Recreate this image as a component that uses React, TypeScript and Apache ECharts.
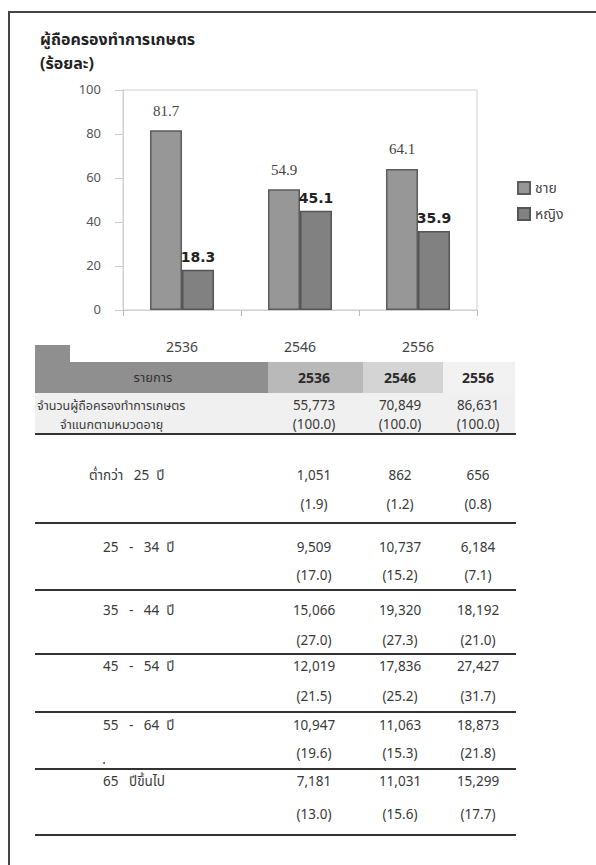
import React, { useEffect, useRef } from "react";
import * as echarts from "echarts";

const years = ["2536", "2546", "2556"];
const maleShare = [81.7, 54.9, 64.1];
const femaleShare = [18.3, 45.1, 35.9];
const seriesNames = ["ชาย", "หญิง"];

const totalHolders = [55773, 70849, 86631];
const totalPct = [100.0, 100.0, 100.0];
const ageGroups = [
  "ต่ำกว่า   25  ปี",
  "25   -   34  ปี",
  "35   -   44  ปี",
  "45   -   54  ปี",
  "55   -   64  ปี",
  "65   ปีขึ้นไป",
];
const holders2536 = [1051, 9509, 15066, 12019, 10947, 7181];
const holders2546 = [862, 10737, 19320, 17836, 11063, 11031];
const holders2556 = [656, 6184, 18192, 27427, 18873, 15299];
const pct2536 = [1.9, 17.0, 27.0, 21.5, 19.6, 13.0];
const pct2546 = [1.2, 15.2, 27.3, 25.2, 15.3, 15.6];
const pct2556 = [0.8, 7.1, 21.0, 31.7, 21.8, 17.7];

const SANS = "Tahoma, 'Noto Sans Thai', 'Noto Sans', 'DejaVu Sans', sans-serif";

function txt(text: string, x: number, y: number, opts: any = {}) {
  const align = opts.align || "left";
  return {
    type: "text",
    x,
    y,
    silent: true,
    style: {
      text,
      fill: opts.fill || "#3a3a3a",
      font: opts.font || `13px ${SANS}`,
      align,
      verticalAlign: "middle",
      textAlign: align,
      textVerticalAlign: "middle",
    },
  };
}

function hline(y: number, x1: number, x2: number, w = 2, c = "#333") {
  return {
    type: "line",
    silent: true,
    shape: { x1, y1: y, x2, y2: y },
    style: { stroke: c, lineWidth: w },
  };
}

function rect(x: number, y: number, w: number, h: number, fill: string) {
  return { type: "rect", silent: true, shape: { x, y, width: w, height: h }, style: { fill } };
}

export default function App() {
  const ref = useRef<HTMLDivElement>(null);

  useEffect(() => {
    document.body.style.margin = "0";
    const chart = echarts.init(ref.current!, null, { renderer: "svg" });

    const colX = [314, 400, 478];
    const valY = [476, 548, 611, 667, 726, 782];
    const pctY = [505, 576, 641, 697, 754, 815];
    const lineY = [434, 523, 590, 654, 712, 769, 835];
    const labelX = [89, 103, 103, 103, 103, 103];
    const holders = [holders2536, holders2546, holders2556];
    const pcts = [pct2536, pct2546, pct2556];
    const numFont = `13.5px ${SANS}`;
    const thaiFont = `12.5px ${SANS}`;

    const graphics: any[] = [];
    // frame
    graphics.push({
      type: "line",
      silent: true,
      shape: { x1: 8, y1: 12, x2: 596, y2: 12 },
      style: { stroke: "#444", lineWidth: 2 },
    });
    graphics.push({
      type: "line",
      silent: true,
      shape: { x1: 9, y1: 12, x2: 9, y2: 865 },
      style: { stroke: "#444", lineWidth: 2 },
    });
    // chart title
    graphics.push(txt("ผู้ถือครองทำการเกษตร", 40, 40, { font: `bold 16px ${SANS}`, fill: "#222" }));
    graphics.push(txt("(ร้อยละ)", 40, 64, { font: `bold 16px ${SANS}`, fill: "#222" }));

    // table header
    graphics.push(rect(35, 345, 35, 48, "#8f8f8f"));
    graphics.push(rect(35, 362, 233, 31, "#8f8f8f"));
    graphics.push(rect(268, 362, 95, 31, "#b9b9b9"));
    graphics.push(rect(363, 362, 80, 31, "#d4d4d4"));
    graphics.push(rect(443, 362, 72, 31, "#f2f2f2"));
    graphics.push(txt("รายการ", 153, 378, { align: "center", fill: "#333", font: `13px ${SANS}` }));
    years.forEach((yr, i) =>
      graphics.push(txt(yr, colX[i], 378, { align: "center", fill: "#2a2a2a", font: `bold 14px ${SANS}` }))
    );
    // totals row
    graphics.push(rect(35, 393, 480, 40, "#f0f0f0"));
    graphics.push(txt("จำนวนผู้ถือครองทำการเกษตร", 37, 406, { font: thaiFont }));
    graphics.push(txt("จำแนกตามหมวดอายุ", 60, 425, { font: thaiFont }));
    totalHolders.forEach((v, i) => {
      graphics.push(txt(v.toLocaleString("en-US"), colX[i], 406, { align: "center", font: numFont }));
      graphics.push(txt(`(${totalPct[i].toFixed(1)})`, colX[i], 425, { align: "center", font: numFont }));
    });
    lineY.forEach((y) => graphics.push(hline(y, 35, 516)));
    ageGroups.forEach((g, r) => {
      graphics.push(txt(g, labelX[r], valY[r], { font: numFont }));
      for (let c = 0; c < 3; c++) {
        graphics.push(
          txt(holders[c][r].toLocaleString("en-US"), colX[c], valY[r], { align: "center", font: numFont })
        );
        graphics.push(txt(`(${pcts[c][r].toFixed(1)})`, colX[c], pctY[r], { align: "center", font: numFont }));
      }
    });
    graphics.push({ type: "circle", silent: true, shape: { cx: 104, cy: 763, r: 1 }, style: { fill: "#555" } });

    chart.setOption({
      animation: false,
      backgroundColor: "#ffffff",
      textStyle: { fontFamily: SANS },
      grid: {
        left: 123,
        right: 119,
        top: 90,
        bottom: 555,
        show: true,
        borderColor: "#cfcfcf",
        borderWidth: 1,
        containLabel: false,
      },
      legend: {
        orient: "vertical",
        left: 512,
        top: 176,
        itemWidth: 12,
        itemHeight: 12,
        itemGap: 12,
        icon: "rect",
        data: seriesNames,
        textStyle: { fontSize: 14, color: "#444", fontFamily: SANS },
      },
      xAxis: {
        type: "category",
        data: years,
        axisLine: { show: true, lineStyle: { color: "#cfcfcf" } },
        axisTick: { show: true, length: 6, lineStyle: { color: "#bbb" } },
        axisLabel: { margin: 30, fontSize: 14, color: "#444", fontFamily: SANS },
      },
      yAxis: {
        type: "value",
        min: 0,
        max: 100,
        interval: 20,
        splitLine: { show: false },
        axisLine: { show: true, lineStyle: { color: "#cfcfcf" } },
        axisTick: { show: true, length: 8, lineStyle: { color: "#ccc" } },
        axisLabel: { margin: 22, fontSize: 13, color: "#555", fontFamily: SANS },
      },
      series: [
        {
          name: seriesNames[0],
          type: "bar",
          data: maleShare,
          barWidth: 32,
          barGap: "0%",
          itemStyle: { color: "#979797", borderColor: "#5c5c5c", borderWidth: 1.5 },
          label: {
            show: true,
            position: "top",
            distance: 12,
            formatter: (p: any) => p.value.toFixed(1),
            fontSize: 15,
            color: "#444",
            fontFamily: "'Liberation Serif', 'DejaVu Serif', serif",
          },
        },
        {
          name: seriesNames[1],
          type: "bar",
          data: femaleShare,
          barWidth: 32,
          barGap: "0%",
          itemStyle: { color: "#818181", borderColor: "#555", borderWidth: 1.5 },
          label: {
            show: true,
            position: "top",
            distance: 6,
            formatter: (p: any) => p.value.toFixed(1),
            fontSize: 14,
            fontWeight: "bold",
            color: "#222",
            fontFamily: "'DejaVu Sans', sans-serif",
          },
        },
      ],
      graphic: { elements: graphics },
    });

    return () => chart.dispose();
  }, []);

  return <div ref={ref} style={{ width: 596, height: 865 }} />;
}
